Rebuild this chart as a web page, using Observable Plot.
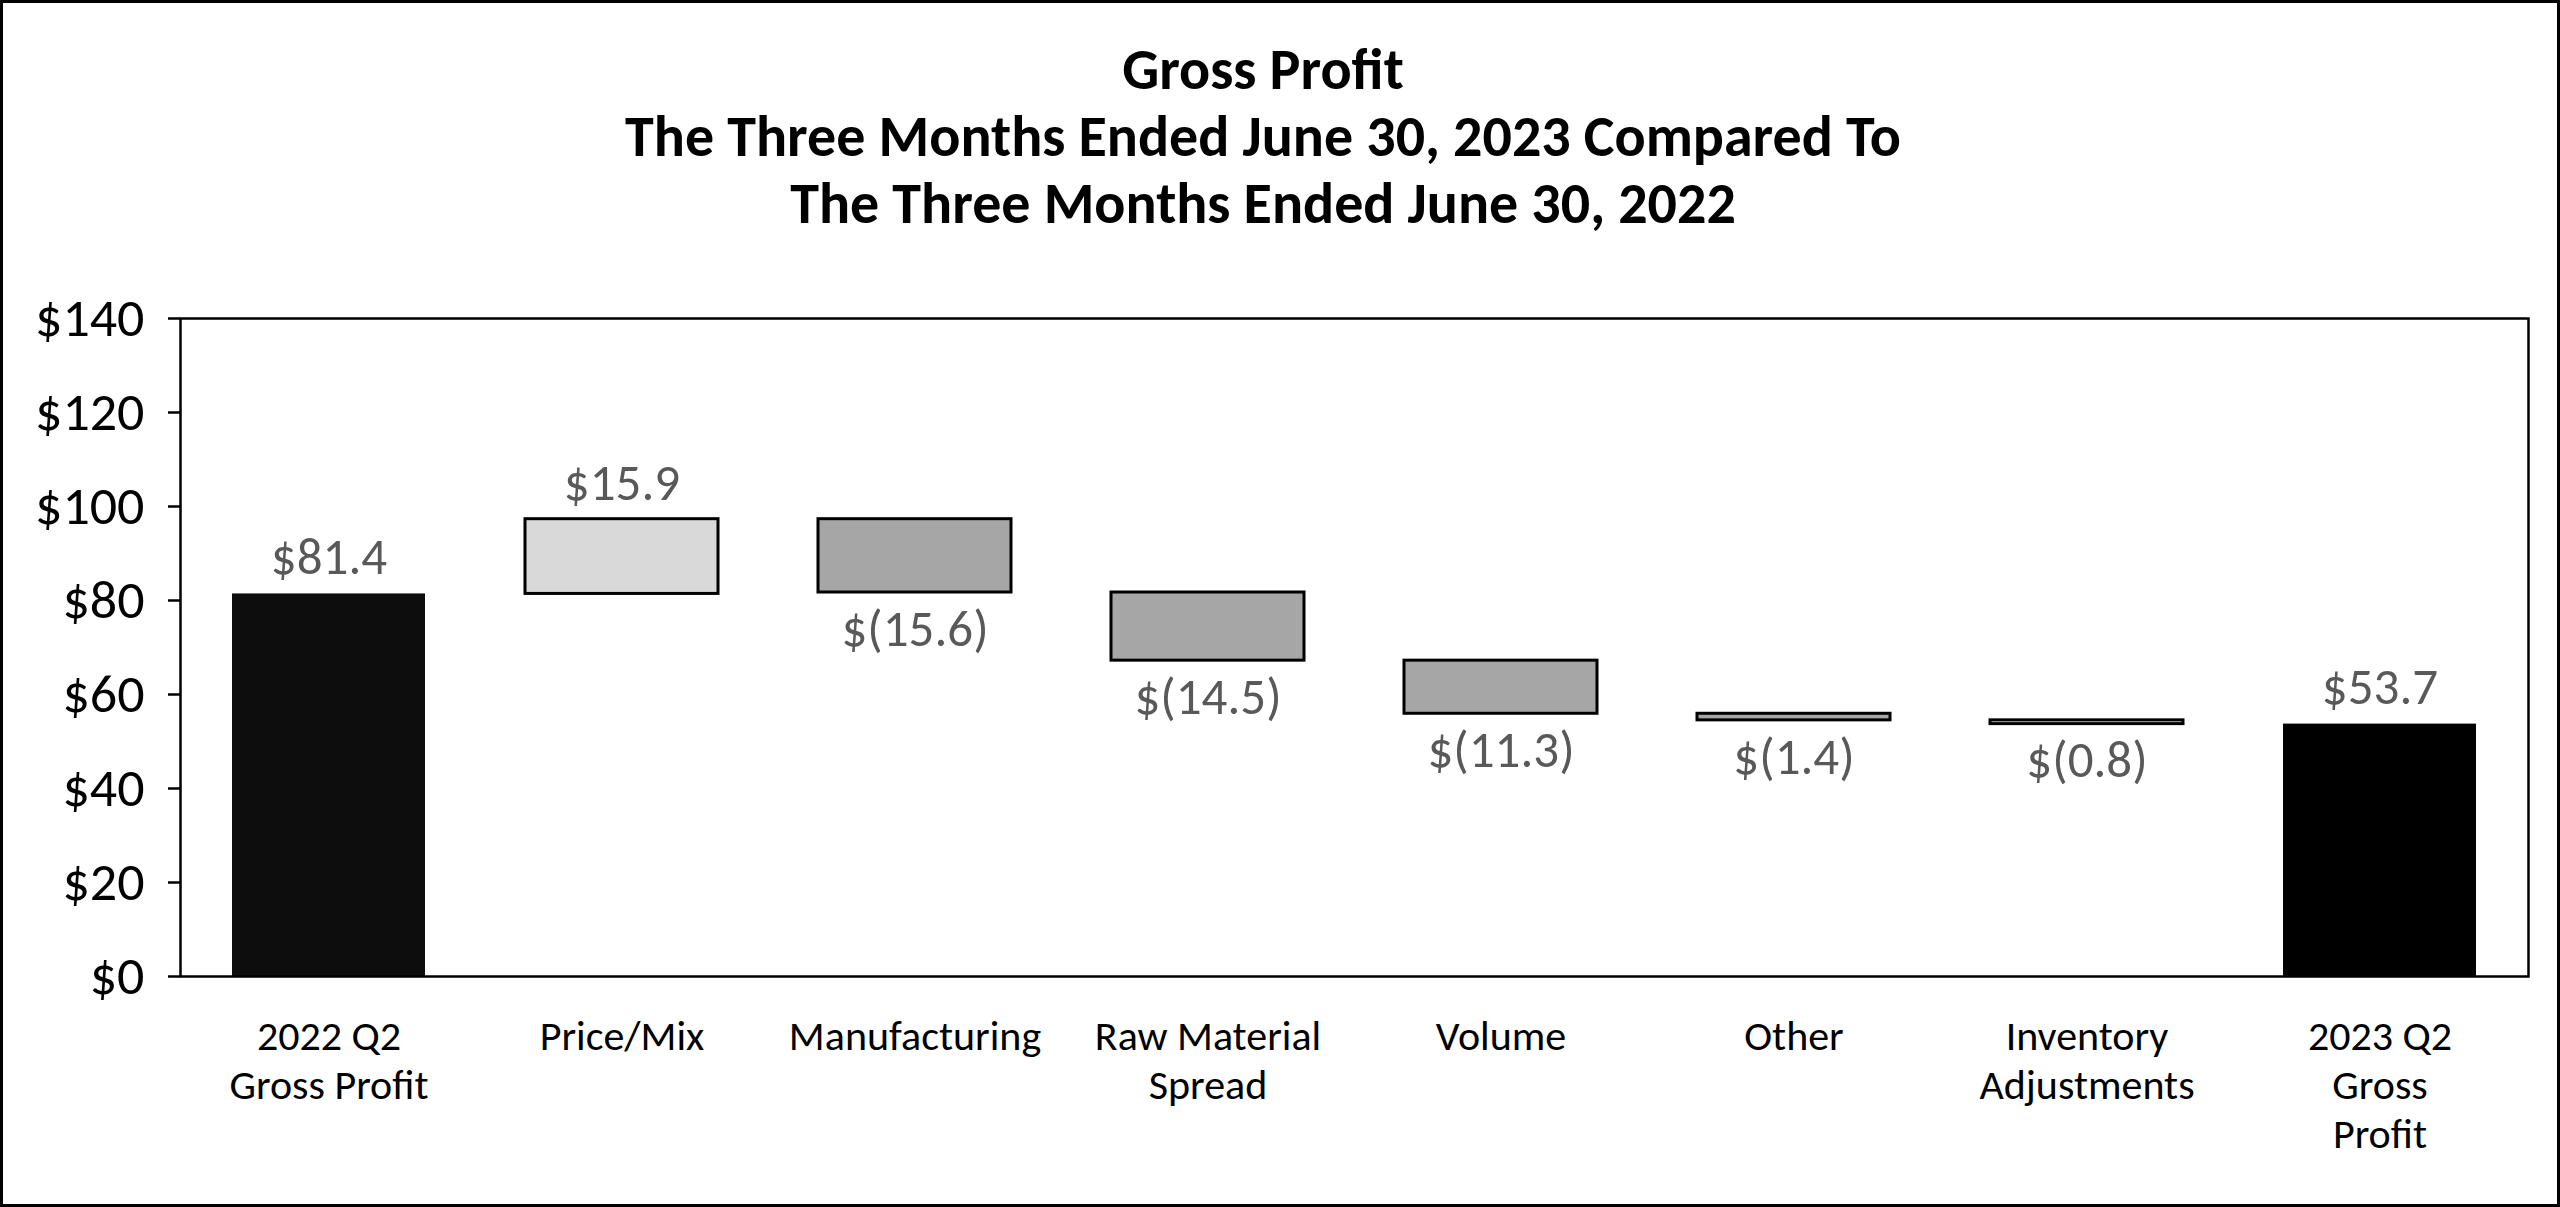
<!DOCTYPE html>
<html>
<head>
<meta charset="utf-8">
<script src="https://cdn.jsdelivr.net/npm/d3@7"></script>
<script src="https://cdn.jsdelivr.net/npm/@observablehq/plot@0.6"></script>
<style>
  html, body { margin: 0; padding: 0; background: #fff; }
  #page { position: relative; width: 2560px; height: 1207px; overflow: hidden; background: #fff; font-family: Carlito, Lato, sans-serif; }
  #border { position: absolute; left: 0; top: 0; width: 2560px; height: 1207px; box-sizing: border-box; border: 3px solid #000; pointer-events: none; }
  #title { position: absolute; left: 0; top: 36px; width: 2526px; text-align: center; font-weight: bold; font-size: 58px; line-height: 67px; color: #000; }
  #chart { position: absolute; left: 0; top: 240px; }
</style>
</head>
<body>
<div id="page">
  <div id="title">Gross Profit<br>The Three Months Ended June 30, 2023 Compared To<br>The Three Months Ended June 30, 2022</div>
  <div id="chart"></div>
  <div id="border"></div>
</div>
<script>
const categories = ["2022 Q2\nGross Profit", "Price/Mix", "Manufacturing", "Raw Material\nSpread", "Volume", "Other", "Inventory\nAdjustments", "2023 Q2\nGross\nProfit"];
const changes = [81.4, 15.9, -15.6, -14.5, -11.3, -1.4, -0.8, 53.7];
const kinds = ["total", "increase", "decrease", "decrease", "decrease", "decrease", "decrease", "total"];
const yTicks = [0, 20, 40, 60, 80, 100, 120, 140];

const fills = ["#0d0d0d", "#d9d9d9", "#a6a6a6", "#a6a6a6", "#a6a6a6", "#a6a6a6", "#d9d9d9", "#000000"];

let running = 0;
const data = categories.map((cat, i) => {
  const v = changes[i];
  let lo, hi;
  if (kinds[i] === "total") { lo = 0; hi = v; running = v; }
  else { const start = running; running = start + v; lo = Math.min(start, running); hi = Math.max(start, running); }
  const label = v < 0 ? "$(" + Math.abs(v).toFixed(1) + ")" : "$" + v.toFixed(1);
  return { cat, lo, hi, v, kind: kinds[i], fill: fills[i], stroke: kinds[i] === "total" ? "none" : "#000", label };
});

const chart = Plot.plot({
  width: 2560,
  height: 967,
  marginLeft: 180,
  marginRight: 32,
  marginTop: 78,
  marginBottom: 231,
  style: { fontFamily: "Carlito, Lato, sans-serif", background: "transparent", overflow: "visible" },
  x: { domain: categories, paddingInner: 0.34, paddingOuter: 0.17, label: null },
  y: { domain: [0, 140], label: null },
  color: { type: "identity" },
  marks: [
    Plot.barY(data, { x: "cat", y1: "lo", y2: "hi", fill: "fill", stroke: "stroke", strokeWidth: 3 }),
    Plot.text(data.filter(d => d.v >= 0), { x: "cat", y: "hi", text: "label", dy: -36, fontSize: 51, fill: "#595959", lineAnchor: "middle" }),
    Plot.text(data.filter(d => d.v < 0), { x: "cat", y: "lo", text: "label", dy: 37, fontSize: 51, fill: "#595959", lineAnchor: "middle" }),
    Plot.axisY({ ticks: yTicks, tickFormat: d => "$" + d, tickSize: 12, tickPadding: 24, fontSize: 54, strokeWidth: 2.5 }),
    Plot.axisX({ tickSize: 0, tickPadding: 39, fontSize: 42, lineHeight: 1.16 }),
    Plot.frame({ stroke: "#000", strokeWidth: 2.5 })
  ]
});
document.getElementById("chart").appendChild(chart);
</script>
</body>
</html>
